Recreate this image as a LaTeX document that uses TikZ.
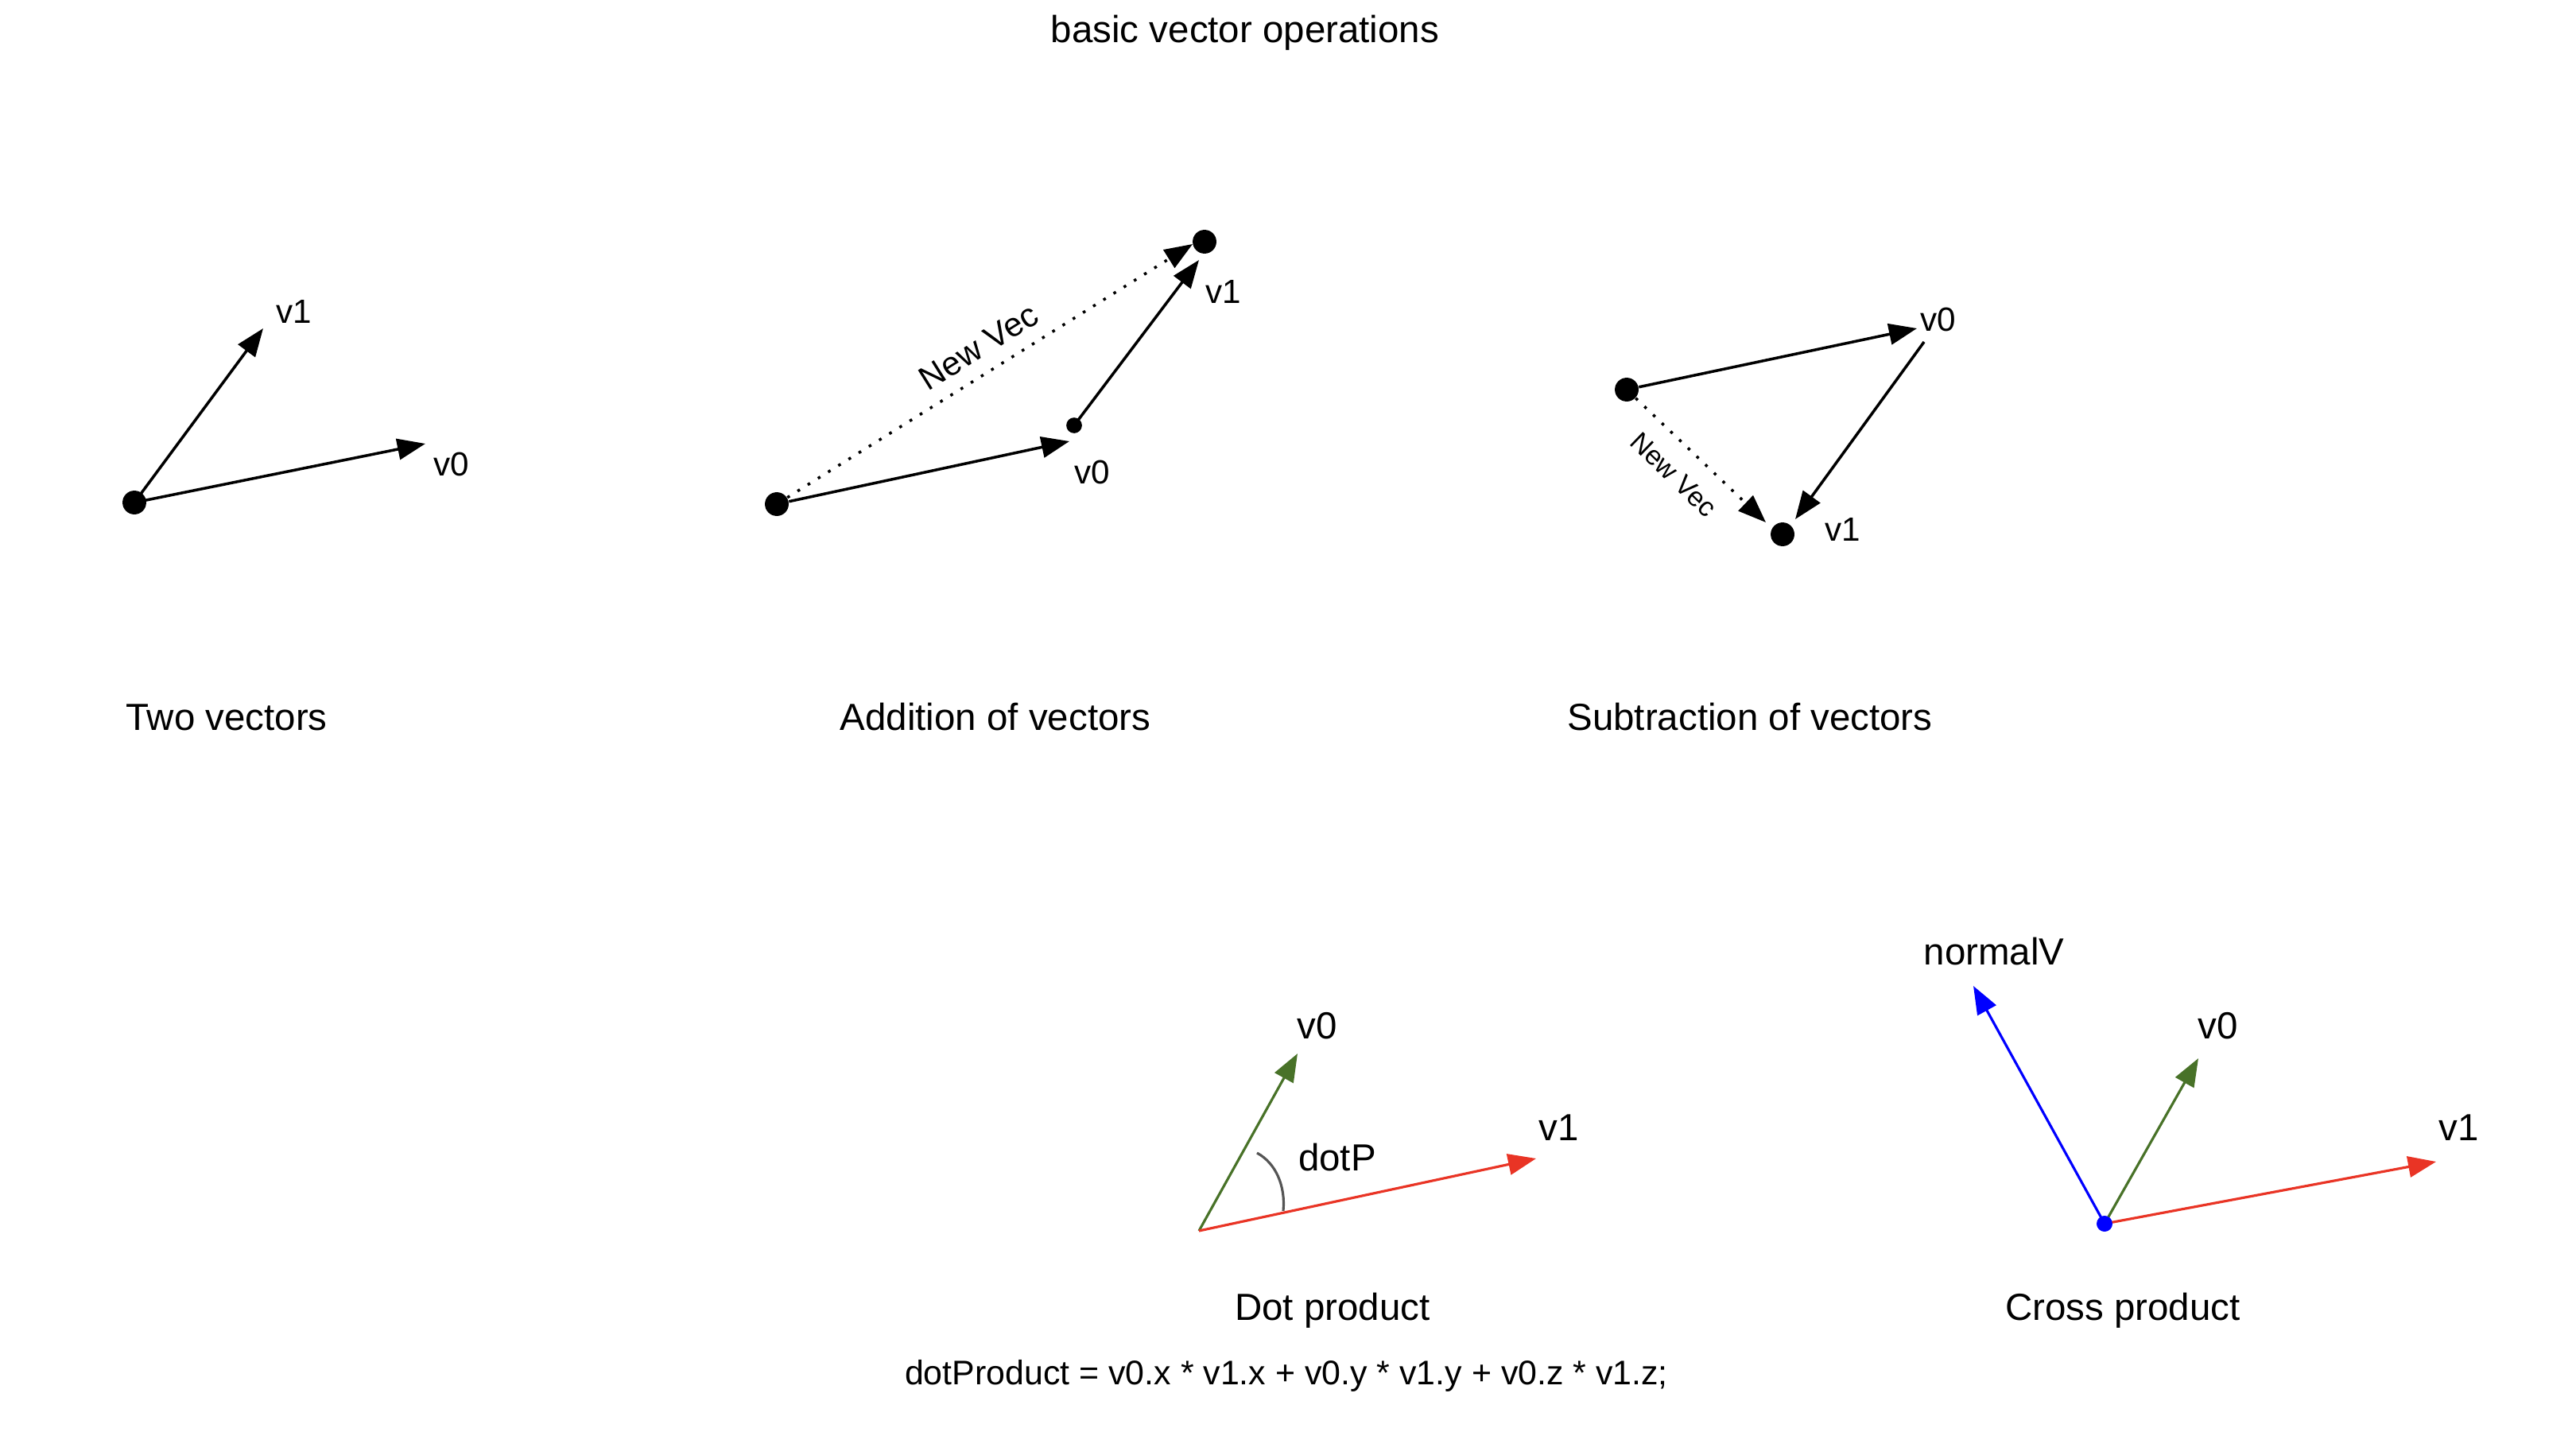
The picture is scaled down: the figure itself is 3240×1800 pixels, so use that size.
\documentclass[tikz,border=0pt]{standalone}
\usepackage{fontspec}
\setmainfont{Liberation Sans}
\usetikzlibrary{arrows.meta}
\definecolor{vgreen}{RGB}{72,114,40}
\definecolor{vred}{RGB}{233,52,37}
\definecolor{vblue}{RGB}{0,0,255}
\definecolor{arcgray}{RGB}{85,85,85}
\begin{document}
\begin{tikzpicture}[x=0.01cm,y=-0.01cm,
  vec/.style={line width=1pt,-{Triangle[length=10pt,width=7.5pt]}},
  cvec/.style={line width=0.9pt,-{Triangle[length=10pt,width=7.5pt]}},
  dotvec/.style={vec,dash pattern=on 1pt off 3.3pt},
  bigdot/.style={circle,fill=black,inner sep=0pt,minimum size=8.5pt},
  smalldot/.style={circle,fill=black,inner sep=0pt,minimum size=5.6pt},
  bluedot/.style={circle,fill=vblue,inner sep=0pt,minimum size=5.6pt},
  lbl/.style={inner sep=0pt,anchor=base,font=\fontsize{12}{14}\selectfont},
  blbl/.style={inner sep=0pt,anchor=base,font=\fontsize{13.5}{16}\selectfont},
  capt/.style={inner sep=0pt,anchor=base,font=\fontsize{13.5}{16}\selectfont},
]
\useasboundingbox (0,0) rectangle (3240,1800);
% title
\node[capt] (title) at (1566,54) {basic vector operations};

% ---- Panel 1: Two vectors
\node[bigdot] (o1) at (169,632) {};
\coordinate (p1a) at (535,558);
\coordinate (p1b) at (331,413);
\draw[vec] (o1.center) -- (p1a);
\draw[vec] (o1.center) -- (p1b);
\node[lbl] (l1v1) at (370,406) {v1};
\node[lbl] (l1v0) at (568,598) {v0};
\node[capt] (c1) at (285,918) {Two vectors};

% ---- Panel 2: Addition
\node[bigdot] (s2) at (977,634) {};
\node[smalldot] (m2) at (1351,535) {};
\node[bigdot] (e2) at (1515,304) {};
\coordinate (p2a) at (1345,555);
\coordinate (p2b) at (1508,327);
\coordinate (p2c) at (1500,307);
\draw[vec] (s2) -- (p2a);
\draw[vec] (m2.center) -- (p2b);
\draw[dotvec] (s2) -- (p2c);
\node[lbl] (l2v0) at (1374,608) {v0};
\node[lbl] (l2v1) at (1539,381) {v1};
\node[inner sep=0pt,rotate=32,font=\fontsize{12}{14}\selectfont] (l2n) at (1231,436) {New Vec};
\node[capt] (c2) at (1252,918) {Addition of vectors};

% ---- Panel 3: Subtraction
\node[bigdot] (s3) at (2046,490) {};
\node[bigdot] (e3) at (2242,672) {};
\coordinate (p3a) at (2411,413);
\coordinate (p3b) at (2420,430);
\coordinate (p3c) at (2258,653);
\coordinate (p3d) at (2221,657);
\draw[vec] (s3) -- (p3a);
\draw[vec] (p3b) -- (p3c);
\draw[dotvec] (s3) -- (p3d);
\node[lbl] (l3v0) at (2438,416) {v0};
\node[lbl] (l3v1) at (2318,680) {v1};
\node[inner sep=0pt,rotate=-44,font=\fontsize{9.7}{11}\selectfont] (l3n) at (2105,597) {New Vec};
\node[capt] (c3) at (2201,918) {Subtraction of vectors};

% ---- Dot product
\coordinate (o4) at (1508,1548);
\coordinate (p4a) at (1632,1325);
\coordinate (p4b) at (1932,1457);
\draw[cvec,vgreen] (o4) -- (p4a);
\draw[cvec,vred] (o4) -- (p4b);
\draw[arcgray,line width=0.9pt] (1581,1450) .. controls (1605,1463) and (1617,1492) .. (1614,1523);
\node[blbl] (l4v0) at (1657,1306) {v0};
\node[blbl] (l4v1) at (1961,1434) {v1};
\node[blbl] (l4d) at (1682,1472) {dotP};
\node[capt] (c4) at (1676,1660) {Dot product};
\node[inner sep=0pt,anchor=base,font=\fontsize{12.2}{14}\selectfont] (f4) at (1618,1741) {dotProduct = v0.x * v1.x + v0.y * v1.y + v0.z * v1.z;};

% ---- Cross product
\coordinate (p5n) at (2482,1240);
\coordinate (p5a) at (2765,1331);
\coordinate (p5b) at (3064,1461);
\node[bluedot] (o5) at (2647,1539) {};
\draw[cvec,vgreen] (o5.center) -- (p5a);
\draw[cvec,vred] (o5.center) -- (p5b);
\draw[cvec,vblue] (o5.center) -- (p5n);
\node[bluedot] at (o5) {};
\node[blbl] (l5n) at (2508,1213) {normalV};
\node[blbl] (l5v0) at (2790,1306) {v0};
\node[blbl] (l5v1) at (3093,1434) {v1};
\node[capt] (c5) at (2670,1660) {Cross product};
\end{tikzpicture}
\end{document}
